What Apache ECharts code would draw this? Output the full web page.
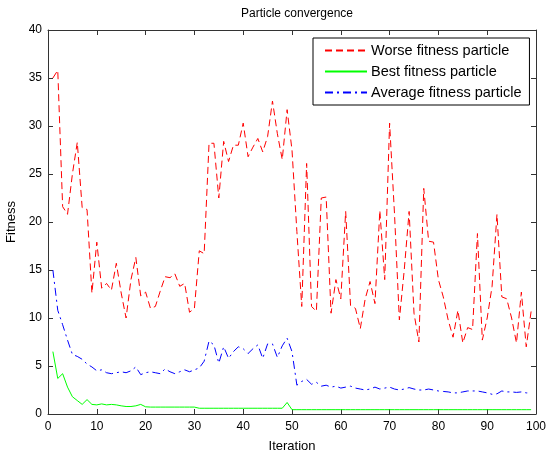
<!DOCTYPE html>
<html>
<head>
<meta charset="utf-8">
<script src="https://cdn.jsdelivr.net/npm/echarts@6/dist/echarts.min.js"></script>
<style>
  html, body { margin: 0; padding: 0; background: #fff; }
  #chart { width: 547px; height: 455px; }
</style>
</head>
<body>
<div id="chart"></div>
<script>
// iterations 1..99
var iterations = [];
for (var k = 1; k <= 99; k++) iterations.push(k);

// worst particle fitness (red dashed)
var worseFitness = [
    35, 35.8, 21.6, 20.8, 25, 28.3, 21.5, 21.3, 12.6, 17.9,
    13.1, 13.6, 12.9, 15.7, 12.6, 10, 14, 16.3, 12.3, 12.7,
    11, 11.2, 12.8, 14.3, 14.2, 14.6, 13.3, 13.6, 10.6, 11,
    17, 16.7, 28.2, 28.2, 22.5, 28.4, 26.3, 28, 28, 30.3,
    26.8, 27.8, 28.7, 27.3, 28.9, 32.6, 29.2, 26.5, 31.7, 27.5,
    19, 11.2, 26.1, 11.2, 10.7, 22.5, 22.6, 10.5, 14, 12,
    21.1, 11.3, 11, 8.9, 12, 13.8, 11.5, 21.2, 14, 30.3,
    20.9, 9.8, 15, 21.1, 10.5, 7.5, 23.5, 18, 17.9, 14,
    12.2, 9.8, 8, 10.8, 7.4, 9, 8.8, 18.8, 7.7, 10,
    13.3, 20.8, 12.2, 12, 10, 7.4, 12.7, 7, 10.7
];

// best particle fitness (green solid)
var bestFitness = [
    6.5, 3.7, 4.2, 2.8, 1.8, 1.4, 1.0, 1.5, 1.0, 0.95,
    1.05, 0.95, 1.0, 0.95, 0.85, 0.78, 0.78, 0.85, 1.0, 0.75,
    0.72, 0.72, 0.72, 0.72, 0.72, 0.72, 0.72, 0.72, 0.72, 0.72,
    0.6, 0.6, 0.6, 0.6, 0.6, 0.6, 0.6, 0.6, 0.6, 0.6,
    0.6, 0.6, 0.6, 0.6, 0.6, 0.6, 0.6, 0.6, 1.2, 0.45,
    0.45, 0.45, 0.45, 0.45, 0.45, 0.45, 0.45, 0.45, 0.45, 0.45,
    0.45, 0.45, 0.45, 0.45, 0.45, 0.45, 0.45, 0.45, 0.45, 0.45,
    0.45, 0.45, 0.45, 0.45, 0.45, 0.45, 0.45, 0.45, 0.45, 0.45,
    0.45, 0.45, 0.45, 0.45, 0.45, 0.45, 0.45, 0.45, 0.45, 0.45,
    0.45, 0.45, 0.45, 0.45, 0.45, 0.45, 0.45, 0.45, 0.45
];

// average particle fitness (blue dash-dot)
var averageFitness = [
    15, 10.8, 9.3, 7.7, 6.2, 6, 5.7, 5.2, 4.9, 4.5,
    4.6, 4.3, 4.2, 4.3, 4.4, 4.3, 4.5, 4.9, 4.1, 4.3,
    4.4, 4.3, 4.2, 4.7, 4.4, 4.2, 4.4, 4.6, 4.4, 4.6,
    4.8, 5.5, 7.6, 7.2, 5.3, 7, 5.8, 6.5, 7, 6.8,
    6.3, 6.8, 7.2, 5.8, 7.3, 7.3, 5.9, 7.1, 7.9, 6.5,
    3, 3.4, 3.6, 3.1, 3.3, 2.9, 3.0, 2.8, 2.9, 2.7,
    2.8, 2.9, 2.7, 2.6, 2.5, 2.6, 2.8, 2.6, 2.7, 2.8,
    2.6, 2.5, 2.6, 2.75, 2.6, 2.5, 2.5, 2.6, 2.5, 2.4,
    2.35, 2.3, 2.2, 2.2, 2.3, 2.4, 2.4, 2.4, 2.3, 2.2,
    2.05, 2.1, 2.4, 2.3, 2.3, 2.25, 2.3, 2.2, 2.2
];

var xTicks = [0, 10, 20, 30, 40, 50, 60, 70, 80, 90, 100];
var yTicks = [0, 5, 10, 15, 20, 25, 30, 35, 40];

function pairs(vals) {
    return iterations.map(function (it, i) { return [it, vals[i]]; });
}

var font = "'Liberation Sans', Arial, sans-serif";
var axisColor = "#333";

// shared axis look (matlab style, ticks inside)
function boxAxis(extra) {
    var base = {
        type: "value",
        axisLine: { show: true, onZero: false, lineStyle: { color: axisColor, width: 1 } },
        axisTick: { show: true, inside: true, length: 5, lineStyle: { color: axisColor } },
        splitLine: { show: false },
        axisLabel: { color: "#000", fontSize: 12, fontFamily: font }
    };
    for (var key in extra) base[key] = extra[key];
    return base;
}

var chart = echarts.init(document.getElementById("chart"));
chart.setOption({
    backgroundColor: "#fff",
    animation: false,
    title: {
        text: "Particle convergence",
        left: 292,
        top: 3,
        textAlign: "center",
        textStyle: { fontSize: 12, fontWeight: "normal", color: "#000", fontFamily: font }
    },
    legend: {
        orient: "vertical",
        left: 313,
        top: 38,
        padding: [5, 8, 5, 11],
        itemGap: 6,
        itemWidth: 42,
        itemHeight: 16,
        borderColor: "#000",
        borderWidth: 1,
        backgroundColor: "#fff",
        itemStyle: { opacity: 0 },
        textStyle: { fontSize: 14.5, color: "#000", fontFamily: font, padding: [0, 0, 0, -1] },
        data: ["Worse fitness particle", "Best fitness particle", "Average fitness particle"]
    },
    grid: { left: 48, right: 11, top: 30, bottom: 41, outerBoundsMode: "none", containLabel: false },
    xAxis: [
        boxAxis({
            min: xTicks[0], max: xTicks[xTicks.length - 1], interval: 10,
            name: "Iteration", nameLocation: "middle", nameGap: 26,
            nameTextStyle: { color: "#000", fontSize: 13, fontFamily: font },
            axisLabel: { color: "#000", fontSize: 12, fontFamily: font, margin: 7 }
        }),
        boxAxis({
            position: "top",
            min: xTicks[0], max: xTicks[xTicks.length - 1], interval: 10,
            axisLabel: { show: false }
        })
    ],
    yAxis: [
        boxAxis({
            min: yTicks[0], max: yTicks[yTicks.length - 1], interval: 5,
            name: "Fitness", nameLocation: "middle", nameGap: 29,
            nameTextStyle: { color: "#000", fontSize: 13, fontFamily: font },
            axisLabel: { color: "#000", fontSize: 12, fontFamily: font, margin: 6 }
        }),
        boxAxis({
            position: "right",
            min: yTicks[0], max: yTicks[yTicks.length - 1], interval: 5,
            axisLabel: { show: false }
        })
    ],
    series: [
        {
            name: "Worse fitness particle",
            type: "line",
            data: pairs(worseFitness),
            symbol: "none",
            color: "#ff0000",
            lineStyle: { color: "#ff0000", width: 1, type: [7, 4] }
        },
        {
            name: "Best fitness particle",
            type: "line",
            data: pairs(bestFitness),
            symbol: "none",
            color: "#00ff00",
            lineStyle: { color: "#00ff00", width: 1 }
        },
        {
            name: "Average fitness particle",
            type: "line",
            data: pairs(averageFitness),
            symbol: "none",
            color: "#0000ff",
            lineStyle: { color: "#0000ff", width: 1, type: [8, 4, 2, 4] }
        }
    ]
});
</script>
</body>
</html>
